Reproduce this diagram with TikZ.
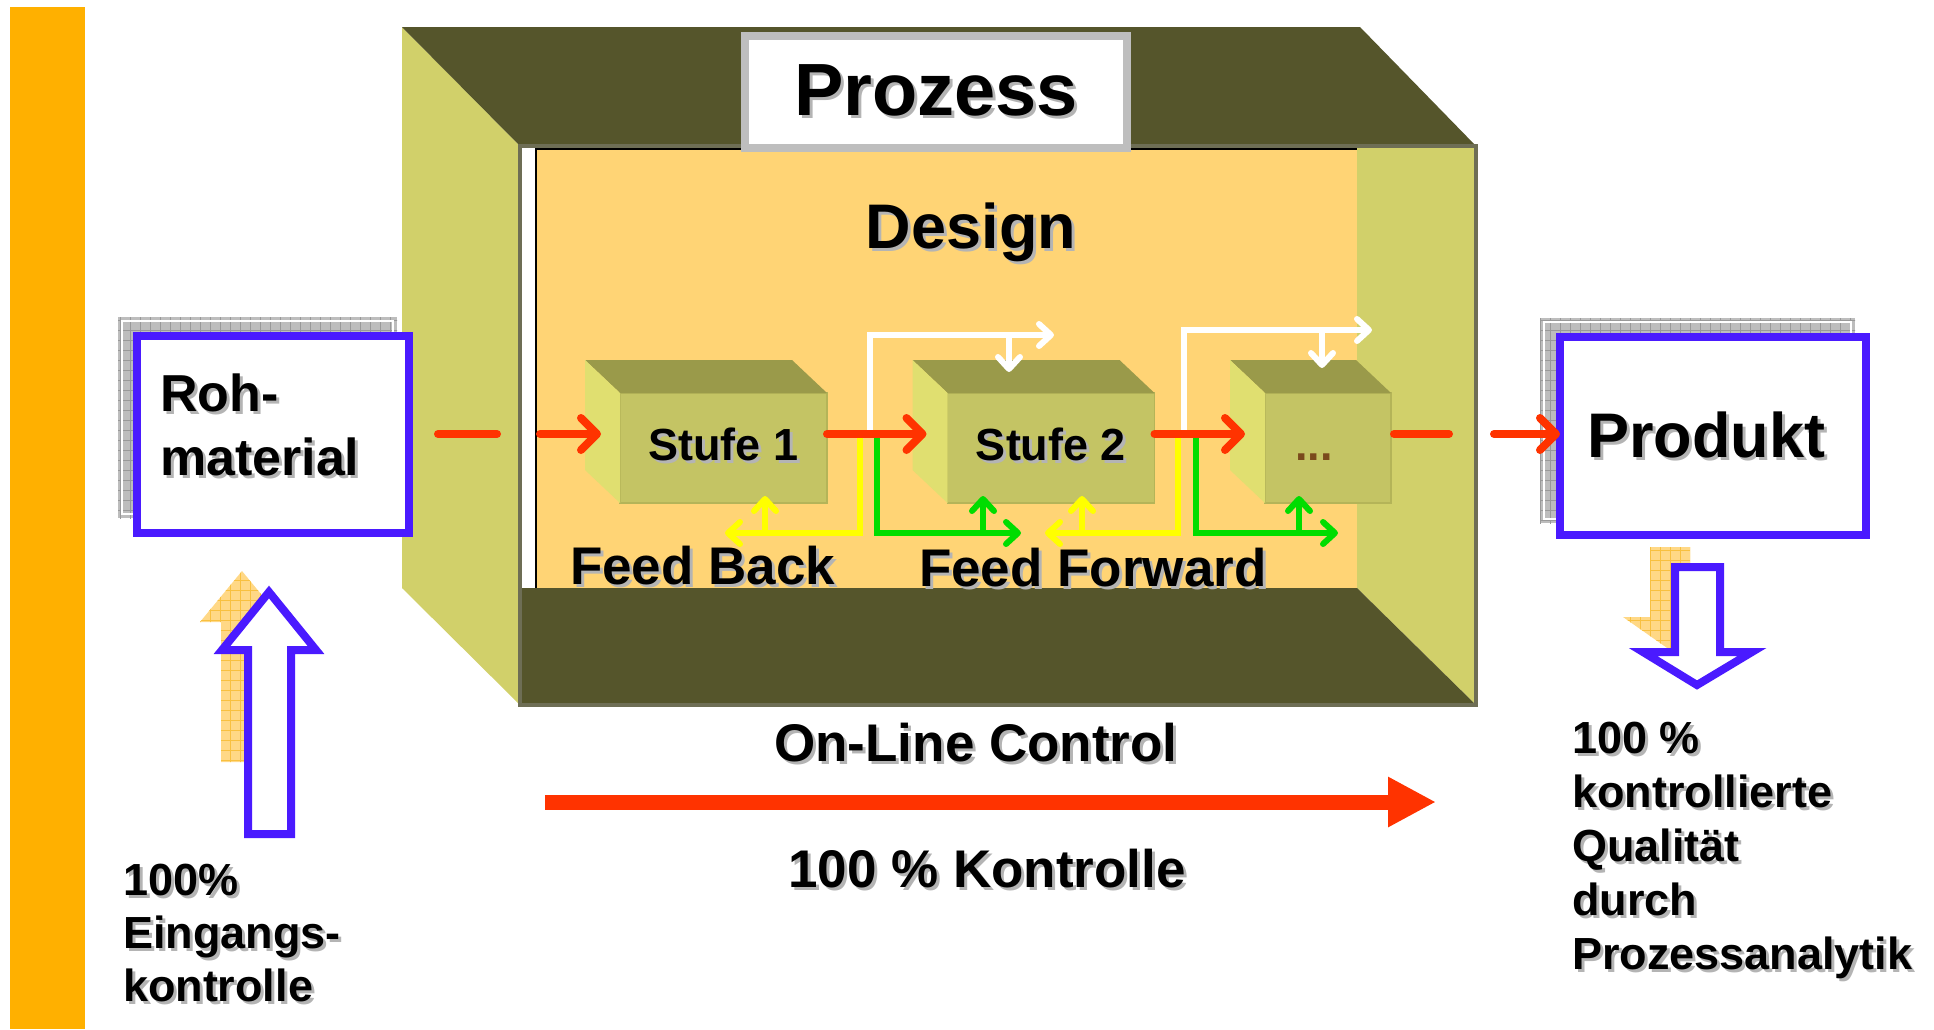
\documentclass[tikz,border=0pt]{standalone}
\usepackage{fontspec}
\setmainfont{Liberation Sans}
\usetikzlibrary{arrows.meta,calc}

\definecolor{barorange}{HTML}{FFB000}
\definecolor{wallgreen}{HTML}{D1D06A}
\definecolor{darkolive}{HTML}{55552B}
\definecolor{backorange}{HTML}{FFD475}
\definecolor{framegrey}{HTML}{6E6E55}
\definecolor{labelgrey}{HTML}{BEBEBE}
\definecolor{stfront}{HTML}{C4C464}
\definecolor{sttop}{HTML}{9A9A4A}
\definecolor{stleft}{HTML}{E0DF70}
\definecolor{stedge}{HTML}{B4B458}
\definecolor{flowred}{HTML}{FF3300}
\definecolor{boxblue}{HTML}{4A1AFF}
\definecolor{fbyellow}{HTML}{FFFF00}
\definecolor{ffgreen}{HTML}{00DD00}
\definecolor{dotbrown}{HTML}{7A4A1C}
\definecolor{hatchgrey}{HTML}{BDBDBD}
\definecolor{hatchgreyline}{HTML}{999999}
\definecolor{hatchorange}{HTML}{FFD886}
\definecolor{hatchorangeline}{HTML}{F8C040}
\definecolor{txtshadow}{HTML}{B4B4B4}

% text with a light drop shadow
\newcommand\shd[1]{\makebox[0pt][l]{\hspace{1.5pt}\raisebox{-1.5pt}{\color{txtshadow}#1}}#1}

\tikzset{
  every node/.style={inner sep=0pt, outer sep=0pt},
  bold/.style={font=\fontsize{#1}{#1}\selectfont\bfseries},
  namebox/.style={draw=labelgrey, line width=4pt, fill=white, minimum width=191pt, minimum height=56pt, bold=37},
  stage/.style={fill=stfront, draw=stedge, line width=0.8pt, minimum width=103.5pt, minimum height=55pt,
    bold=22.5, text height=12pt, text depth=0pt},
  rawbox/.style={draw=boxblue, line width=4pt, fill=white, minimum width=136pt, minimum height=98.5pt,
    text width=113pt, inner xsep=11.5pt, align=left, text depth=41.5pt, font=\fontsize{26}{32}\selectfont\bfseries},
  prodbox/.style={draw=boxblue, line width=4pt, fill=white, minimum width=153pt, minimum height=99pt, bold=31.5},
  note/.style={align=left, font=\fontsize{22.5}{#1}\selectfont\bfseries},
  flow/.style={draw=flowred, line width=4pt, line cap=round, -{Straight Barb[round, length=8pt, width=16pt]}},
  flowdash/.style={draw=flowred, line width=4pt, line cap=round},
  bigflow/.style={draw=flowred, line width=7.5pt, -{Triangle[length=24pt, width=23.5pt]}},
  wline/.style={draw=white, line width=3pt, -{Straight Barb[round, length=6pt, width=11pt]}},
  fbline/.style={draw=fbyellow, line width=3pt, -{Straight Barb[round, length=6pt, width=11pt]}},
  ffline/.style={draw=ffgreen, line width=3pt, -{Straight Barb[round, length=6pt, width=11pt]}},
  hollow/.style={draw=boxblue, line width=4pt, fill=white, line join=miter}
}

\begin{document}
\begin{tikzpicture}[x=0.5pt,y=-0.5pt]
\useasboundingbox (0,0) rectangle (1934,1029);

% orange bar
\fill[barorange] (10,7) rectangle (85,1029);

% the process box
\fill[wallgreen] (402,27) -- (520,146) -- (520,705) -- (402,588) -- cycle;
\fill[darkolive] (402,27) -- (1360,27) -- (1476,146) -- (520,146) -- cycle;
\fill[white] (520,146) rectangle (536,588);
\fill[backorange] (536,146) rectangle (1357,588);
\fill[wallgreen] (1357,146) -- (1476,146) -- (1476,705) -- (1357,588) -- cycle;
\fill[darkolive] (520,588) -- (1357,588) -- (1476,705) -- (520,705) -- cycle;
\draw[black, line width=1pt] (536,588) -- (536,149) -- (1357,149);
\draw[framegrey, line width=2pt] (520,146) rectangle (1476,705);

\node[namebox] (prozess) at (936,92) {\shd{Prozess}};
\node[bold=31.5, anchor=base] (design) at (971,248) {\shd{Design}};

% stages
\node[stage] (s1) at (723.5,448) {\shd{Stufe 1}};
\node[stage] (s2) at (1051,448) {\shd{Stufe 2}};
\node[stage, minimum width=63pt, text=dotbrown] (s3) at (1328,448) {...\kern14pt};
\foreach \s in {s1,s2,s3} {
  \fill[sttop] (\s.north west) -- ++(-35,-33) -- ($(\s.north east)+(-35,-33)$) -- (\s.north east) -- cycle;
  \fill[stleft] (\s.north west) -- ++(-35,-33) -- ($(\s.south west)+(-35,-33)$) -- (\s.south west) -- cycle;
}

% shadows
\begin{scope}
\clip (118,317) rectangle (397,518);
\fill[hatchgrey] (118,317) rectangle (397,518);
\draw[hatchgreyline, line width=0.4pt, step=5pt] (110,525) grid (400,310);
\draw[white, line width=0.6pt] (122,321) rectangle (393,514);
\end{scope}
\begin{scope}
\clip (1540,318) rectangle (1855,523);
\fill[hatchgrey] (1540,318) rectangle (1855,523);
\draw[hatchgreyline, line width=0.4pt, step=5pt] (1530,530) grid (1860,310);
\draw[white, line width=0.6pt] (1544,322) rectangle (1851,519);
\end{scope}
\begin{scope}
\clip (242,571) -- (284,622) -- (263,622) -- (263,762) -- (221,762) -- (221,622) -- (200,622) -- cycle;
\fill[hatchorange] (190,560) rectangle (300,770);
\draw[hatchorangeline, line width=0.4pt, step=5pt] (190,770) grid (300,560);
\end{scope}
\begin{scope}
\clip (1650,547) -- (1690,547) -- (1690,617) -- (1717,617) -- (1670,650) -- (1623,617) -- (1650,617) -- cycle;
\fill[hatchorange] (1610,540) rectangle (1730,660);
\draw[hatchorangeline, line width=0.4pt, step=5pt] (1610,660) grid (1730,540);
\end{scope}

% raw material and product
\node[rawbox] (roh) at (273,434.5) {\shd{Roh-}\\\shd{material}};
\node[prodbox] (prod) at (1713,436) {\shd{Produkt}\kern7pt};
\draw[hollow] (269,592) -- (316,650) -- (291,650) -- (291,834) -- (248,834) -- (248,650) -- (222,650) -- cycle;
\draw[hollow] (1675,567) -- (1720,567) -- (1720,652) -- (1752,652) -- (1697,685) -- (1643,652) -- (1675,652) -- cycle;

% feed back / feed forward
\coordinate (wt1) at (870,434);
\coordinate (wt1end) at (1054,335);
\coordinate (wt1tap) at (1009,335);
\coordinate (wt1tip) at (1009,372);
\coordinate (wt2) at (1184,434);
\coordinate (wt2end) at (1372,330);
\coordinate (wt2tap) at (1322,330);
\coordinate (wt2tip) at (1322,368);
\coordinate (fb1) at (860,436);
\coordinate (fb1end) at (725,533);
\coordinate (fb1tap) at (765,533);
\coordinate (fb1tip) at (765,496);
\coordinate (fb2) at (1178,436);
\coordinate (fb2end) at (1045,533);
\coordinate (fb2tap) at (1082,533);
\coordinate (fb2tip) at (1082,496);
\coordinate (ff1) at (877,436);
\coordinate (ff1end) at (1021,533);
\coordinate (ff1tap) at (983,533);
\coordinate (ff1tip) at (983,496);
\coordinate (ff2) at (1196,436);
\coordinate (ff2end) at (1338,533);
\coordinate (ff2tap) at (1299,533);
\coordinate (ff2tip) at (1299,496);

\draw[wline] (wt1) |- (wt1end);
\draw[wline] (wt1tap) -- (wt1tip);
\draw[wline] (wt2) |- (wt2end);
\draw[wline] (wt2tap) -- (wt2tip);
\draw[fbline] (fb1) |- (fb1end);
\draw[fbline] (fb1tap) -- (fb1tip);
\draw[fbline] (fb2) |- (fb2end);
\draw[fbline] (fb2tap) -- (fb2tip);
\draw[ffline] (ff1) |- (ff1end);
\draw[ffline] (ff1tap) -- (ff1tip);
\draw[ffline] (ff2) |- (ff2end);
\draw[ffline] (ff2tap) -- (ff2tip);

% material flow
\coordinate (rohout) at (438,434);
\coordinate (rohdash) at (497,434);
\coordinate (inner) at (540,434);
\coordinate (s3dash) at (1449,434);
\coordinate (prodin) at (1494,434);
\draw[flowdash] (rohout) -- (rohdash);
\draw[flow] (inner) -- ($(s1.west)+(-19,-14)$);
\draw[flow] ($(s1.east)+(0,-14)$) -- ($(s2.west)+(-21,-14)$);
\draw[flow] ($(s2.east)+(0,-14)$) -- ($(s3.west)+(-20,-14)$);
\draw[flowdash] ($(s3.east)+(3,-14)$) -- (s3dash);
\draw[flow] (prodin) -- (prod.west |- prodin);

\node[bold=26.5, anchor=base west] (feedback) at (570,584) {\shd{Feed Back}};
\node[bold=26.5, anchor=base west] (feedfwd) at (919,586) {\shd{Feed Forward}};

% on-line control
\coordinate (olstart) at (545,802);
\coordinate (olend) at (1436,802);
\draw[bigflow] (olstart) -- (olend);
\node[bold=26.5, anchor=base] (online) at (976,761) {\shd{On-Line Control}};
\node[bold=26.5, anchor=base] (kontrolle) at (987,887) {\shd{100 \% Kontrolle}};

\node[note=26.5, anchor=north west] (eingang) at (123,864) {\shd{100\%}\\\shd{Eingangs-}\\\shd{kontrolle}};
\node[note=27, anchor=north west] (quality) at (1572,722) {\shd{100 \%}\\\shd{kontrollierte}\\\shd{Qualität}\\\shd{durch}\\\shd{Prozessanalytik}};
\end{tikzpicture}
\end{document}
